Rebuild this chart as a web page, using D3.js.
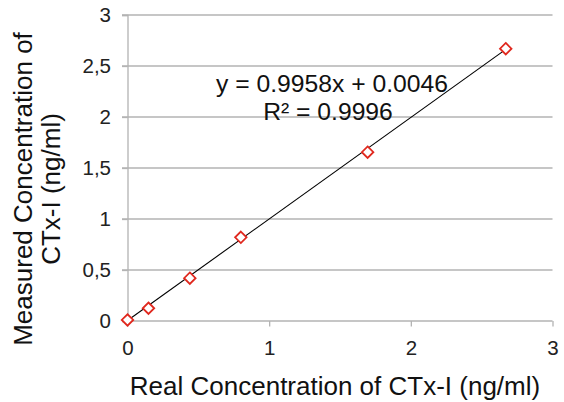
<!DOCTYPE html>
<html><head><meta charset="utf-8">
<script src="https://cdn.jsdelivr.net/npm/d3@7"></script>
<style>body{margin:0;background:#fff}svg{font-family:"Liberation Sans",Arial,sans-serif}</style>
</head><body><svg id="c" width="564" height="402"></svg>
<script>
const realConc = [0, 0.148, 0.44, 0.80, 1.695, 2.67];
const measuredConc = [0.01, 0.125, 0.42, 0.82, 1.655, 2.67];
const xTicks = [0, 1, 2, 3];
const yTicks = [0, 0.5, 1, 1.5, 2, 2.5, 3];
const slope = 0.9958, intercept = 0.0046;
const eqLines = ["y = 0.9958x + 0.0046", "R² = 0.9996"];

const svg = d3.select("#c");
const x = d3.scaleLinear().domain([0, 3]).range([127.5, 552.5]);
const y = d3.scaleLinear().domain([0, 3]).range([321, 15]);
const grid = "#b3b3b3";
const fmt = d => String(d).replace(".", ",");
const FF = "Liberation Sans, Arial, sans-serif";

// horizontal gridlines
svg.append("g").selectAll("line").data(yTicks.filter(d => d > 0)).join("line")
  .attr("x1", 122).attr("x2", x(3)).attr("y1", d => y(d)).attr("y2", d => y(d))
  .attr("stroke", grid).attr("stroke-width", 1.3);

// y axis
const ya = svg.append("g").attr("transform", `translate(${x(0)},0)`)
  .call(d3.axisLeft(y).tickValues(yTicks).tickFormat(fmt).tickSize(5.5).tickPadding(11));
ya.select(".domain").attr("stroke", grid).attr("stroke-width", 1.3);
ya.selectAll(".tick line").attr("stroke", grid).attr("stroke-width", 1.3);
ya.selectAll(".tick text").attr("font-size", 20.5).attr("fill", "#222").attr("font-family", FF);

// x axis
const xa = svg.append("g").attr("transform", `translate(0,${y(0)})`)
  .call(d3.axisBottom(x).tickValues(xTicks).tickFormat(fmt).tickSize(5.5).tickPadding(13.5));
xa.select(".domain").attr("stroke", grid).attr("stroke-width", 1.3).attr("d", `M${x(0)},0H${x(3)}`);
xa.selectAll(".tick line").attr("stroke", grid).attr("stroke-width", 1.3);
xa.selectAll(".tick text").attr("font-size", 20.5).attr("fill", "#222").attr("font-family", FF);

// trendline
const x0 = d3.min(realConc), x1 = d3.max(realConc);
svg.append("line")
  .attr("x1", x(x0)).attr("y1", y(slope * x0 + intercept))
  .attr("x2", x(x1)).attr("y2", y(slope * x1 + intercept))
  .attr("stroke", "#000").attr("stroke-width", 1.1);

// markers
svg.append("g").selectAll("path").data(realConc.map((v, i) => [v, measuredConc[i]])).join("path")
  .attr("d", d3.symbol(d3.symbolDiamond2, 84))
  .attr("transform", d => `translate(${x(d[0])},${y(d[1])})`)
  .attr("fill", "#fff").attr("stroke", "#e0281e").attr("stroke-width", 1.8);

// equation
const eqX = [332, 328], eqY = [91.5, 119.5];
svg.append("g").selectAll("text").data(eqLines).join("text")
  .attr("x", (d, i) => eqX[i]).attr("y", (d, i) => eqY[i])
  .attr("text-anchor", "middle").attr("font-size", 24.7).attr("fill", "#111")
  .text(d => d);

// axis titles
svg.append("text").attr("x", 335).attr("y", 395).attr("text-anchor", "middle")
  .attr("font-size", 26).attr("fill", "#111").text("Real Concentration of CTx-I (ng/ml)");
const yl = svg.append("text").attr("transform", "translate(0,189) rotate(-90)")
  .attr("text-anchor", "middle").attr("font-size", 26).attr("fill", "#111");
yl.append("tspan").attr("x", 0).attr("y", 32).text("Measured Concentration of");
yl.append("tspan").attr("x", 0).attr("y", 60).text("CTx-I (ng/ml)");
</script></body></html>
